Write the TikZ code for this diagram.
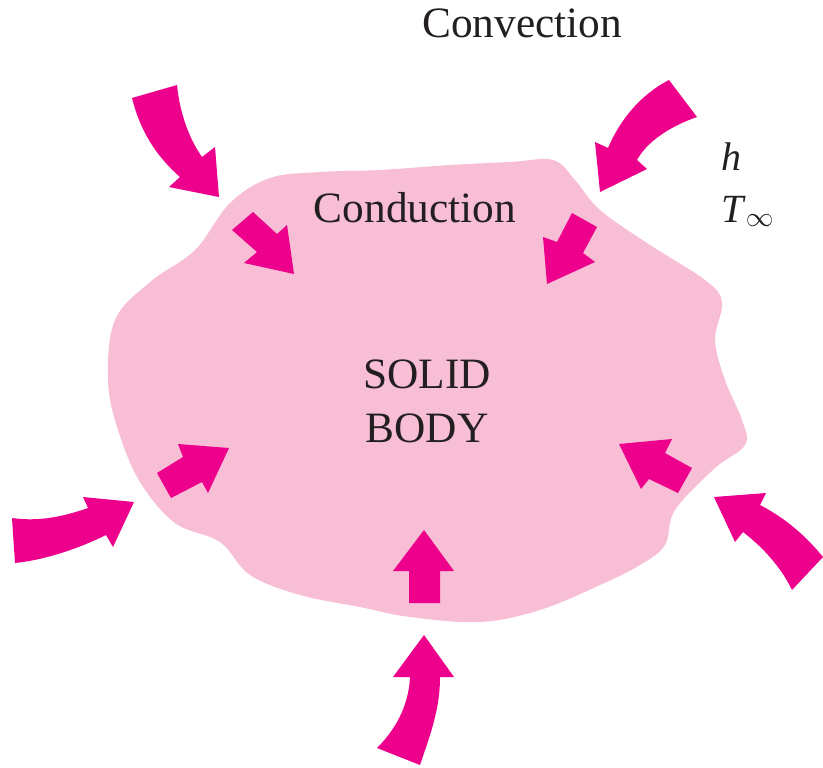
\documentclass[tikz,border=0pt]{standalone}
\usepackage{fontspec}
\setmainfont{Liberation Serif}
\definecolor{arrowmag}{HTML}{EC008C}
\definecolor{bodypink}{HTML}{F7BED6}
\definecolor{txt}{HTML}{231F20}
\begin{document}
\begin{tikzpicture}[x=0.75pt,y=-0.75pt,
  heat/.style={fill=arrowmag,draw=none},
  lbl/.style={text=txt,inner sep=0pt,anchor=base,font=\fontsize{32.5}{38}\selectfont},
  sym/.style={text=txt,inner sep=0pt,anchor=base west,font=\fontsize{30}{36}\selectfont}]
\useasboundingbox (0,0) rectangle (823,767);
% solid body
\fill[bodypink] plot[smooth cycle,tension=0.6] coordinates {
 (230,203) (270,178) (320,172) (380,170) (450,165) (510,162) (553,160)
 (575,180) (600,210) (650,245) (705,280) (722,302) (715,340) (725,380)
 (742,420) (745,445) (715,468) (675,510) (665,545) (640,565) (600,585)
 (540,610) (480,622) (410,617) (360,607) (300,595) (250,575) (220,542)
 (175,523) (140,482) (118,430) (108,380) (115,320) (150,282) (195,250)};
% convection arrows (outside)
\fill[heat] (132,98) .. controls (140,130) and (155,155) .. (180,177) -- (169,187) -- (219,197) -- (215,147) -- (202,157) .. controls (190,140) and (180,115) .. (177,85) -- cycle;
\fill[heat] (669,80) .. controls (640,95) and (620,120) .. (608,148) -- (595,142) -- (600,192) -- (647,169) -- (637,160) .. controls (645,145) and (665,128) .. (697,117) -- cycle;
\fill[heat] (12,518) .. controls (40,522) and (65,516) .. (88,508) -- (83,497) -- (134,502) -- (113,547) -- (106,535) .. controls (80,548) and (45,560) .. (15,563) -- cycle;
\fill[heat] (823,557) .. controls (805,535) and (785,518) .. (760,505) -- (766,493) -- (714,497) -- (735,542) -- (743,532) .. controls (760,545) and (780,565) .. (792,590) -- cycle;
\fill[heat] (410,677) .. controls (409,700) and (400,725) .. (377,748) -- (420,765) .. controls (430,735) and (440,710) .. (440,677) -- (454,677) -- (424,635) -- (393,677) -- cycle;
% conduction arrows (inside)
\fill[heat] (232,230) -- (253,212) -- (277,234) -- (287,225) -- (294,274) -- (244,263) -- (257,252) -- cycle;
\fill[heat] (572,213) -- (597,227) -- (583,253) -- (595,262) -- (547,284) -- (543,237) -- (557,242) -- cycle;
\fill[heat] (157,473) -- (171,498) -- (202,482) -- (208,493) -- (229,448) -- (178,444) -- (183,457) -- cycle;
\fill[heat] (619,444) -- (672,439) -- (665,453) -- (692,468) -- (678,493) -- (649,479) -- (641,489) -- cycle;
\fill[heat] (424,530) -- (454,571) -- (440,571) -- (440,603) -- (409,603) -- (409,571) -- (393,571) -- cycle;
% labels
\node[lbl] (convection) at (522,38) {Convection};
\node[lbl] (conduction) at (415,222) {Conduction};
\node[lbl] (solid) at (427,388) {SOLID};
\node[lbl] (body) at (427,442) {BODY};
\node[sym] (h) at (721,170) {\textit{h}};
\node[sym] (tinf) at (721,222) {\textit{T}$_{\infty}$};
\end{tikzpicture}
\end{document}
